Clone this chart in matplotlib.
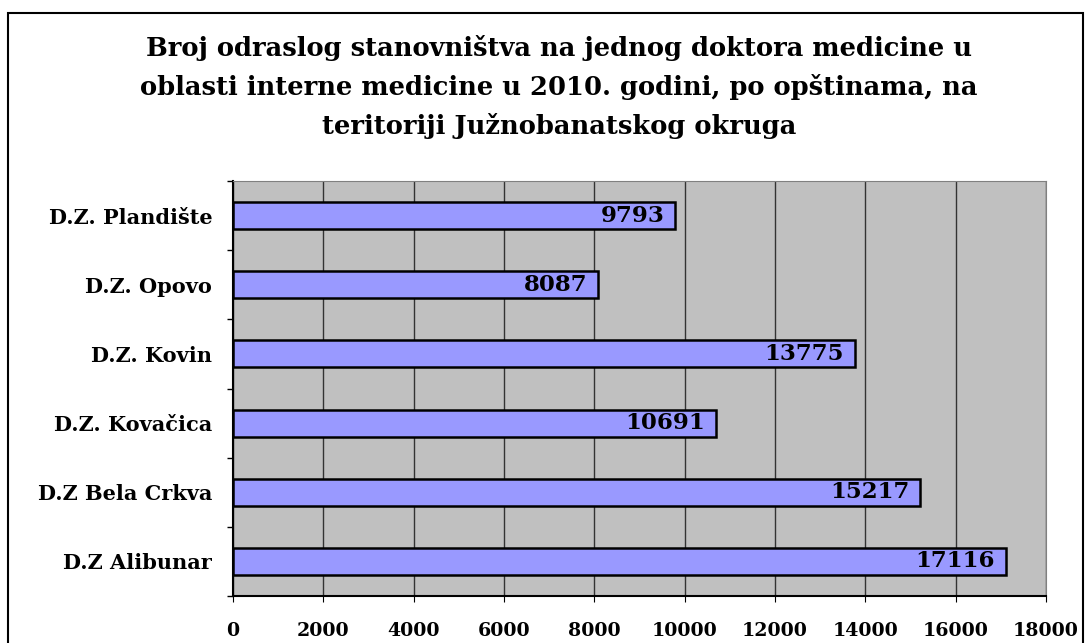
import matplotlib.pyplot as plt
from matplotlib.patches import Rectangle

# Podaci
opstine = ['D.Z Alibunar', 'D.Z Bela Crkva', 'D.Z. Kovačica', 'D.Z. Kovin', 'D.Z. Opovo', 'D.Z. Plandište']
vrednosti = [17116, 15217, 10691, 13775, 8087, 9793]
xticks = [0, 2000, 4000, 6000, 8000, 10000, 12000, 14000, 16000, 18000]

plt.rcParams['font.family'] = ['DejaVu Serif']

fig = plt.figure(figsize=(10.87, 6.43), dpi=100)
ax = fig.add_axes([233 / 1087, 1 - 596 / 643, (1046 - 233) / 1087, (596 - 181) / 643])

# okvir oko cele slike
fig.patches.append(Rectangle((8 / 1087, -0.05), (1083 - 8) / 1087, 1.05 - 13 / 643,
                             transform=fig.transFigure, fill=False, edgecolor='black', lw=1.5))

ax.set_facecolor('#C0C0C0')
pos = range(len(opstine))
ax.barh(pos, vrednosti, height=0.39, color='#9999FF', edgecolor='black', linewidth=1.8, zorder=3)

for p, v in zip(pos, vrednosti):
    ax.annotate(str(v), (v, p), xytext=(-8, 0), textcoords='offset points',
                ha='right', va='center', fontsize=16.5, fontweight='bold', zorder=4)

ax.set_xlim(0, 18000)
ax.set_ylim(-0.5, len(opstine) - 0.5)
ax.set_xticks(xticks)
ax.set_xticklabels([str(t) for t in xticks], fontsize=13.7, fontweight='bold')
ax.set_yticks(list(pos))
ax.set_yticklabels(opstine, fontsize=15, fontweight='bold')
ax.set_yticks([i + 0.5 for i in range(-1, len(opstine))], minor=True)
ax.tick_params(axis='y', which='major', length=0, pad=15)
ax.tick_params(axis='y', which='minor', length=4.5, width=1)
ax.tick_params(axis='x', length=4.5, pad=14)
ax.grid(axis='x', color='#333333', linewidth=1, zorder=1)
for s in ['top', 'right']:
    ax.spines[s].set_color('#808080')
ax.spines['left'].set_linewidth(1.5)
ax.spines['bottom'].set_linewidth(1.5)

naslov = ['Broj odraslog stanovništva na jednog doktora medicine u',
          'oblasti interne medicine u 2010. godini, po opštinama, na',
          'teritoriji Južnobanatskog okruga']
for i, red in enumerate(naslov):
    fig.text(559 / 1087, 1 - (48 + 39 * i) / 643, red, ha='center', va='center',
             fontsize=18.5, fontweight='bold')

fig.savefig('out.png', dpi=100)
